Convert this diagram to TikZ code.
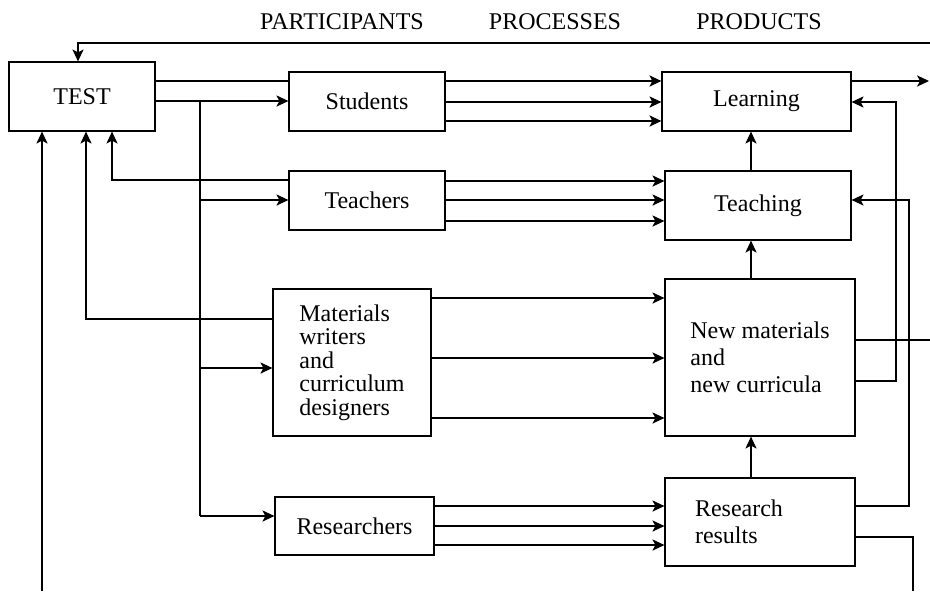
\documentclass[tikz,border=0pt]{standalone}
\usepackage{fontspec}
\setmainfont{Liberation Serif}
\usetikzlibrary{arrows.meta}

\begin{document}
\begin{tikzpicture}[x=0.5pt, y=-0.5pt, line width=0.6pt,
  >={Stealth[length=6pt,width=5.6pt,inset=1.5pt]},
  box/.style={draw, font=\fontsize{12}{13.5}\selectfont, inner sep=0pt, align=left},
  head/.style={font=\fontsize{12}{14}\selectfont, anchor=base}]

\useasboundingbox (0,0) rectangle (930,591);

\node[head] (h_part) at (342,29) {PARTICIPANTS};
\node[head] (h_proc) at (555,29) {PROCESSES};
\node[head] (h_prod) at (759,29) {PRODUCTS};

% participants
\node[box, minimum width=73pt, minimum height=34.5pt] (test) at (82,96.5) {TEST};
\node[box, minimum width=78pt, minimum height=29.5pt] (students) at (367,101.5) {Students};
\node[box, minimum width=78pt, minimum height=29.5pt] (teachers) at (367,200.5) {Teachers};
\node[box, minimum width=79pt, minimum height=73.5pt, font=\fontsize{12}{11.8}\selectfont]
  (materials) at (352,362.5) {Materials\\writers\\and\\curriculum\\designers};
\node[box, minimum width=79.5pt, minimum height=29pt] (researchers) at (354.5,526) {Researchers};

% products
\node[box, minimum width=94.5pt, minimum height=29.5pt] (learning) at (756.5,101.5) {Learning};
\node[box, minimum width=93pt, minimum height=34.5pt] (teaching) at (758,205.5) {Teaching};
\node[box, minimum width=95pt, minimum height=78.5pt] (newmat) at (760,357.5) {New materials\\and\\new curricula};
\node[box, text width=65pt, inner xsep=15pt, minimum height=44pt] (results) at (760,522) {Research\\results};

\coordinate (top_in) at (930,43);
\coordinate (bot_in) at (42,591);
\coordinate (out_l) at (929,81);
\coordinate (out_m) at (930,340);
\coordinate (out_r) at (913,591);
\coordinate (fork) at (200,101);

% test to participants
\draw (test.east |- 0,81) -- (students.west |- 0,81);
\draw[->] (test.east |- fork) -- (students.west |- fork);
\draw (fork) -- (200,516);
\foreach \n/\y in {teachers/200, materials/368, researchers/516}
  \draw[->] (200,\y) -- (\n.west |- 0,\y);

% back to test
\draw[->] (top_in) -| (78,0 |- test.north);
\draw[->] (teachers.west |- 0,180) -| (112,0 |- test.south);
\draw[->] (materials.west |- 0,319) -| (86,0 |- test.south);
\draw[->] (bot_in) -- (42,0 |- test.south);

% processes
\foreach \s/\d/\ya/\yb/\yc in%
    {students/learning/81/102/121,
     teachers/teaching/181/200/221,
     materials/newmat/298/358/418,
     researchers/results/506/526/545} {
  \foreach \y in {\ya,\yb,\yc}
    \draw[->] (\s.east |- 0,\y) -- (\d.west |- 0,\y);
}

% between products
\draw[->] (751,0 |- teaching.north) -- (751,0 |- learning.south);
\draw[->] (751,0 |- newmat.north) -- (751,0 |- teaching.south);
\draw[->] (751,0 |- results.north) -- (751,0 |- newmat.south);

\draw[->] (learning.east |- out_l) -- (out_l);
\draw[->] (newmat.east |- 0,381) -| (896,102) -- (learning.east |- 0,102);
\draw (newmat.east |- out_m) -- (out_m);
\draw[->] (results.east |- 0,506) -| (909,200) -- (teaching.east |- 0,200);
\draw (results.east |- 0,537) -| (out_r);

\end{tikzpicture}
\end{document}
